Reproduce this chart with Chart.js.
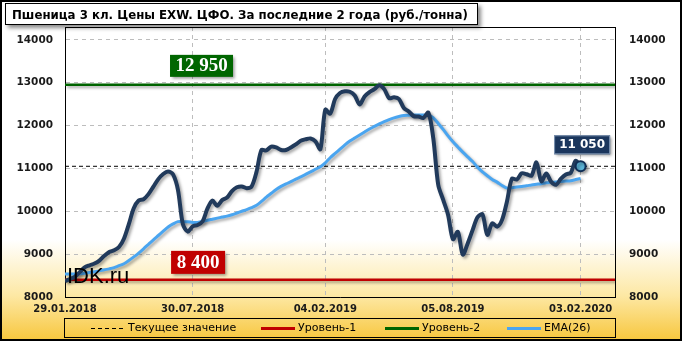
<!DOCTYPE html>
<html>
<head>
<meta charset="utf-8">
<script src="https://cdn.jsdelivr.net/npm/chart.js@4.4.1/dist/chart.umd.min.js"></script>
<style>
    html, body { margin: 0; padding: 0; background: #fff; }
</style>
</head>
<body>
<canvas id="grafico" width="682" height="341"></canvas>
<script>
// dados semanais (29.01.2018 ate 03.02.2020)
const titulo = 'Пшеница 3 кл. Цены EXW. ЦФО. За последние 2 года (руб./тонна)'
const datas = ['29.01.2018', '30.07.2018', '04.02.2019', '05.08.2019', '03.02.2020']
const posDatas = [0, 26, 53, 79, 105]
const ticksY = [8000, 9000, 10000, 11000, 12000, 13000, 14000]

const precos = [
    8370, 8420, 8470, 8580, 8690, 8740, 8780, 8850, 8960, 9050,
    9090, 9165, 9360, 9700, 10070, 10250, 10280, 10400, 10575, 10750,
    10870, 10930, 10860, 10500, 9700, 9525, 9650, 9680, 9760, 10060,
    10250, 10130, 10260, 10320, 10470, 10560, 10580, 10540, 10580, 10920,
    11430, 11420, 11510, 11490, 11430, 11430, 11490, 11560, 11645, 11680,
    11700, 11630, 11450, 12370, 12280, 12620, 12760, 12800, 12790, 12700,
    12490, 12680, 12780, 12850, 12940, 12850, 12640, 12660, 12620, 12410,
    12330, 12220, 12210, 12180, 12300, 11700, 10620, 10270, 9920, 9350,
    9520, 8990, 9250, 9560, 9860, 9930, 9450, 9720, 9640, 9800,
    10230, 10760, 10740, 10885, 10865, 10830, 11140, 10700, 10880, 10690,
    10620, 10760, 10860, 10900, 11180, 11050
]

const ema26 = [
    8537, 8537, 8537, 8540, 8555, 8570, 8590, 8610, 8635, 8657,
    8685, 8730, 8775, 8850, 8935, 9025, 9125, 9230, 9335, 9435,
    9535, 9635, 9705, 9758, 9758, 9755, 9740, 9740, 9760, 9790,
    9815, 9840, 9865, 9888, 9920, 9960, 10000, 10040, 10085, 10140,
    10230, 10330, 10420, 10510, 10580, 10640, 10690, 10750, 10805, 10860,
    10920, 10980, 11040, 11130, 11250, 11350, 11450, 11550, 11640, 11710,
    11780, 11850, 11920, 11980, 12040, 12093, 12140, 12180, 12210, 12233,
    12240, 12245, 12245, 12245, 12250, 12180, 12050, 11910, 11760, 11620,
    11500, 11380, 11270, 11160, 11030, 10920, 10830, 10740, 10680, 10600,
    10540, 10550, 10565, 10580, 10595, 10615, 10630, 10645, 10665, 10675,
    10685, 10695, 10705, 10715, 10740, 10765
]

const valorAtual = 11050
const nivel1 = 8400
const nivel2 = 12950
const fimEixo = 112

const ultimo = precos.length - 1

function linhaReta(valor) {
    return [{ x: 0, y: valor }, { x: fimEixo, y: valor }]
}

function formatar(v) {
    return String(v).replace(/\B(?=(\d{3})+(?!\d))/g, ' ')
}

// sombra nas linhas
const sombra = {
    id: 'sombra',
    beforeDatasetDraw(chart, args) {
        if (!chart.data.datasets[args.index].sombra) return
        const c = chart.ctx
        c.save()
        c.shadowColor = 'rgba(0,0,0,0.35)'
        c.shadowBlur = 3
        c.shadowOffsetX = 2
        c.shadowOffsetY = 2
    },
    afterDatasetDraw(chart, args) {
        if (!chart.data.datasets[args.index].sombra) return
        chart.ctx.restore()
    }
}

function caixa(c, x, y, w, h, cor, borda) {
    c.save()
    c.shadowColor = 'rgba(0,0,0,0.4)'
    c.shadowBlur = 3
    c.shadowOffsetX = 2
    c.shadowOffsetY = 2
    c.fillStyle = cor
    c.fillRect(x, y, w, h)
    c.restore()
    if (borda) {
        c.strokeStyle = borda
        c.lineWidth = 1
        c.strokeRect(x + 0.5, y + 0.5, w - 1, h - 1)
    }
}

const fundo = {
    id: 'fundo',
    beforeDraw(chart) {
        const c = chart.ctx
        c.save()
        c.fillStyle = '#ffffff'
        c.fillRect(0, 0, chart.width, chart.height)
        const g = c.createLinearGradient(0, 240, 0, chart.height)
        g.addColorStop(0, 'rgba(255,255,255,1)')
        g.addColorStop(0.55, '#fde8a4')
        g.addColorStop(1, '#f7c63c')
        c.fillStyle = g
        c.fillRect(0, 240, chart.width, chart.height - 240)
        c.restore()
    },
    afterDatasetsDraw(chart) {
        const c = chart.ctx
        const x = chart.scales.x
        const y = chart.scales.y
        c.save()

        c.font = '22px "Liberation Sans"'
        c.fillStyle = '#000'
        c.textAlign = 'left'
        c.textBaseline = 'alphabetic'
        c.fillText('IDK.ru', 67, 283)

        // rotulos dos niveis
        c.font = 'bold 19px "Liberation Serif"'
        c.textAlign = 'center'
        c.textBaseline = 'middle'
        let cx = x.getPixelForValue(27.8)
        let by = y.getPixelForValue(nivel2) - 8
        caixa(c, cx - 31.5, by - 22, 63, 22, '#006600')
        c.fillStyle = '#fff'
        c.fillText(formatar(nivel2), cx, by - 10.5)

        cx = x.getPixelForValue(27.1)
        by = y.getPixelForValue(nivel1) - 6
        caixa(c, cx - 27, by - 23, 54, 23, '#c00000')
        c.fillStyle = '#fff'
        c.fillText(formatar(nivel1), cx, by - 11)

        c.font = 'bold 12px "DejaVu Sans"'
        cx = x.getPixelForValue(105.3)
        by = y.getPixelForValue(valorAtual) - 12
        caixa(c, cx - 28, by - 19, 56, 19, '#1b365d', '#7f95b3')
        c.fillStyle = '#fff'
        c.fillText(formatar(valorAtual), cx, by - 9)
        c.restore()
    },
    afterDraw(chart) {
        const c = chart.ctx
        const a = chart.chartArea
        c.save()
        // borda de cima da area
        c.strokeStyle = '#000'
        c.lineWidth = 1
        c.beginPath()
        c.moveTo(a.left, a.top + 0.5)
        c.lineTo(a.right, a.top + 0.5)
        c.stroke()

        // titulo
        c.save()
        c.shadowColor = 'rgba(0,0,0,0.45)'
        c.shadowBlur = 4
        c.shadowOffsetX = 3
        c.shadowOffsetY = 3
        c.fillStyle = '#fff'
        c.fillRect(5, 3, 473, 22)
        c.restore()
        c.strokeStyle = '#000'
        c.strokeRect(5.5, 3.5, 472, 21)
        c.font = 'bold 11.8px "DejaVu Sans"'
        c.fillStyle = '#000'
        c.textAlign = 'left'
        c.textBaseline = 'alphabetic'
        c.fillText(titulo, 12, 19)

        // legenda
        c.strokeRect(64.5, 318.5, 551, 19)
        const ordem = [2, 4, 3, 1]
        const xLeg = [91, 261, 385, 507]
        c.font = '11px "DejaVu Sans"'
        c.textBaseline = 'middle'
        ordem.forEach((idx, i) => {
            const ds = chart.data.datasets[idx]
            c.beginPath()
            c.setLineDash(ds.borderDash || [])
            c.strokeStyle = ds.borderColor
            c.lineWidth = idx === 2 ? 1 : 3
            c.moveTo(xLeg[i], 328.5)
            c.lineTo(xLeg[i] + 34, 328.5)
            c.stroke()
            c.setLineDash([])
            c.fillStyle = '#000'
            c.fillText(ds.label, xLeg[i] + 37, 328.5)
        })

        // moldura externa
        c.lineWidth = 2
        c.strokeStyle = '#000'
        c.strokeRect(1, 1, chart.width - 2, chart.height - 2)
        c.restore()
    }
}

const fonteEixo = { family: 'DejaVu Sans', weight: 'bold', size: 10.5 }

const ctx = document.getElementById('grafico').getContext('2d')
const grafico = new Chart(ctx, {
    type: 'line',
    data: {
        datasets: [
            {
                label: 'Цена',
                data: precos.map((v, i) => ({ x: i, y: v })),
                borderColor: '#213a5b',
                borderWidth: 4,
                tension: 0.3,
                sombra: true,
                pointRadius: (c) => c.dataIndex === ultimo ? 5 : 0,
                pointBackgroundColor: '#5cb5d9',
                pointBorderColor: '#0f2d55',
                pointBorderWidth: 2
            },
            {
                label: 'EMA(26)',
                data: ema26.map((v, i) => ({ x: i, y: v })),
                borderColor: '#4aa5f0',
                borderWidth: 3,
                tension: 0.3,
                pointRadius: 0,
                sombra: true
            },
            {
                label: 'Текущее значение',
                data: linhaReta(valorAtual),
                borderColor: '#000',
                borderWidth: 1,
                borderDash: [4, 3],
                pointRadius: 0
            },
            {
                label: 'Уровень-2',
                data: linhaReta(nivel2),
                borderColor: '#006400',
                borderWidth: 2.5,
                pointRadius: 0,
                sombra: true
            },
            {
                label: 'Уровень-1',
                data: linhaReta(nivel1),
                borderColor: '#c00000',
                borderWidth: 2.5,
                pointRadius: 0,
                sombra: true
            }
        ]
    },
    options: {
        responsive: false,
        animation: false,
        layout: { padding: { top: 27, left: 0, right: 0, bottom: 0 } },
        plugins: {
            legend: { display: false },
            tooltip: { enabled: false }
        },
        scales: {
            x: {
                type: 'linear',
                min: 0,
                max: fimEixo,
                afterBuildTicks: (eixo) => { eixo.ticks = posDatas.map(v => ({ value: v })) },
                afterFit: (eixo) => { eixo.height = 44 },
                ticks: {
                    callback: (v) => datas[posDatas.indexOf(v)],
                    font: { family: 'DejaVu Sans', weight: 'bold', size: 10 },
                    color: '#1a1a1a',
                    padding: 6,
                    maxRotation: 0,
                    autoSkip: false
                },
                grid: { color: '#bdbdbd', drawTicks: false },
                border: { display: true, color: '#000', width: 1, dash: [4, 4] }
            },
            y: {
                position: 'left',
                min: 8000,
                max: 14300,
                afterBuildTicks: (eixo) => { eixo.ticks = ticksY.map(v => ({ value: v })) },
                afterFit: (eixo) => { eixo.width = 65 },
                ticks: { font: fonteEixo, color: '#1a1a1a', padding: 12, callback: (v) => String(v) },
                grid: { color: '#bdbdbd', drawTicks: false },
                border: { display: true, color: '#000', width: 1, dash: [4, 4] }
            },
            y2: {
                position: 'right',
                min: 8000,
                max: 14300,
                afterBuildTicks: (eixo) => { eixo.ticks = ticksY.map(v => ({ value: v })) },
                afterFit: (eixo) => { eixo.width = 67 },
                ticks: { font: fonteEixo, color: '#1a1a1a', padding: 14, callback: (v) => String(v) },
                grid: { drawOnChartArea: false, drawTicks: false },
                border: { display: true, color: '#000', width: 1 }
            }
        }
    },
    plugins: [sombra, fundo]
})
</script>
</body>
</html>
